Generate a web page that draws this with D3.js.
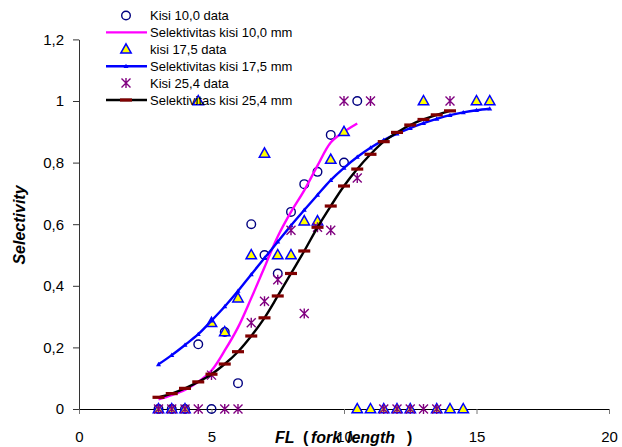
<!DOCTYPE html>
<html><head><meta charset="utf-8">
<script src="https://cdn.jsdelivr.net/npm/d3@7"></script>
<style>body{margin:0;background:#fff}svg{display:block;font-family:"Liberation Sans",Arial,sans-serif}</style>
</head><body><svg id="c" width="622" height="447"></svg>
<script>
// Observed data (FL in cm, selectivity)
const kisi10 = [[3,0],[3.5,0],[4,0],[4.5,0.21],[5,0],[5.5,0.25],[6,0.084],[6.5,0.6],[7,0.5],[7.5,0.44],[8,0.64],[8.5,0.73],[9,0.77],[9.5,0.89],[10,0.8],[10.5,1.0]];
const kisi17 = [[3,0],[3.5,0],[4,0],[4.5,1.0],[5,0.28],[5.5,0.25],[6,0.36],[6.5,0.5],[7,0.83],[7.5,0.5],[8,0.5],[8.5,0.61],[9,0.61],[9.5,0.81],[10,0.9],[10.5,0],[11,0],[11.5,0],[12,0],[12.5,0],[13,1.0],[13.5,0],[14,0],[14.5,0],[15,1.0],[15.5,1.0]];
const kisi25 = [[3,0],[3.5,0],[4,0],[4.5,0],[5,0.11],[5.5,0],[6,0],[6.5,0.28],[7,0.35],[7.5,0.42],[8,0.58],[8.5,0.31],[9,0.59],[9.5,0.58],[10,1.0],[10.5,0.75],[11,1.0],[11.5,0],[12,0],[12.5,0],[13,0],[13.5,0],[14,1.0]];
// Fitted selectivity curves
const sel10 = [[3,0.031],[3.5,0.045],[4,0.062],[4.5,0.088],[5,0.125],[5.5,0.19],[6,0.265],[6.5,0.36],[7,0.46],[7.5,0.56],[8,0.64],[8.5,0.71],[9,0.79],[9.5,0.865],[10,0.9],[10.5,0.927]];
const sel17 = [[3,0.145],[3.5,0.175],[4,0.208],[4.5,0.243],[5,0.287],[5.5,0.333],[6,0.383],[6.5,0.437],[7,0.49],[7.5,0.543],[8,0.596],[8.5,0.646],[9,0.695],[9.5,0.743],[10,0.783],[10.5,0.818],[11,0.848],[11.5,0.873],[12,0.894],[12.5,0.912],[13,0.928],[13.5,0.942],[14,0.954],[14.5,0.963],[15,0.97],[15.5,0.975]];
const sel25 = [[3,0.038],[3.5,0.05],[4,0.067],[4.5,0.088],[5,0.113],[5.5,0.146],[6,0.186],[6.5,0.237],[7,0.296],[7.5,0.367],[8,0.44],[8.5,0.513],[9,0.59],[9.5,0.659],[10,0.724],[10.5,0.779],[11,0.827],[11.5,0.868],[12,0.898],[12.5,0.922],[13,0.94],[13.5,0.955],[14,0.968]];
const xTicks = [0,5,10,15,20];
const yTicks = [0,0.2,0.4,0.6,0.8,1.0,1.2];
const legendLabels = ["Kisi 10,0 data","Selektivitas kisi 10,0 mm","kisi 17,5 data","Selektivitas kisi 17,5 mm","Kisi 25,4 data","Selektivitas kisi 25,4 mm"];

const svg = d3.select("#c");
const x = d3.scaleLinear().domain([0,20]).range([79,609]);
const y = d3.scaleLinear().domain([0,1.2]).range([409,39.4]);
const fmt = v => v===0?"0":(v===1?"1":d3.format(".1f")(v).replace(".",","));

// axes
const gx = svg.append("g").attr("transform","translate(0,409)")
  .call(d3.axisBottom(x).tickValues(xTicks).tickSize(5).tickPadding(17).tickSizeOuter(0).tickFormat(d=>d));
gx.select(".domain").attr("stroke","#000").attr("stroke-width",1.2);
gx.selectAll(".tick line").attr("stroke","#777");
gx.selectAll("text").attr("font-size",15).attr("fill","#000").attr("font-family","Liberation Sans, Arial");
const gy = svg.append("g").attr("transform","translate(79,0)")
  .call(d3.axisLeft(y).tickValues(yTicks).tickSize(6).tickPadding(9).tickSizeOuter(0).tickFormat(fmt));
gy.select(".domain").attr("stroke","#333");
gy.selectAll(".tick line").attr("stroke","#333");
gy.selectAll("text").attr("font-size",15).attr("fill","#000").attr("font-family","Liberation Sans, Arial");

// titles
const xt = svg.append("text").attr("y",443).attr("font-size",16).attr("font-weight","bold");
xt.append("tspan").attr("x",275).attr("font-style","italic").text("FL");
xt.append("tspan").attr("x",303).text("(");
xt.append("tspan").attr("x",311).attr("font-style","italic").text("fork");
xt.append("tspan").attr("x",347).attr("font-style","italic").text("length");
xt.append("tspan").attr("x",407).text(")");
svg.append("text").attr("transform","translate(25,225) rotate(-90)").attr("text-anchor","middle")
  .attr("font-size",16).attr("font-weight","bold").attr("font-style","italic").text("Selectivity");

const line = d3.line().x(d=>x(d[0])).y(d=>y(d[1])).curve(d3.curveCatmullRom);

// marker drawers
function circ(g,cx,cy){g.append("circle").attr("cx",cx).attr("cy",cy).attr("r",4.3).attr("fill","none").attr("stroke","#000080").attr("stroke-width",1.4);}
function tri(g,cx,cy){g.append("path").attr("d",`M${cx},${cy-5.5}L${cx+5.2},${cy+3.8}L${cx-5.2},${cy+3.8}Z`).attr("fill","#ffff00").attr("stroke","#0000ff").attr("stroke-width",1.5);}
function star(g,cx,cy){const s=4.5;g.append("path").attr("d",`M${cx-s},${cy-s}L${cx+s},${cy+s}M${cx-s},${cy+s}L${cx+s},${cy-s}M${cx},${cy-s-0.5}L${cx},${cy+s+0.5}`).attr("stroke","#800080").attr("stroke-width",1.4).attr("fill","none");}
function smallTri(g,cx,cy){g.append("path").attr("d",`M${cx},${cy-2.5}L${cx+2.5},${cy+1.8}L${cx-2.5},${cy+1.8}Z`).attr("fill","#0000ff");}
function dash(g,cx,cy){g.append("rect").attr("x",cx-6).attr("y",cy-1.6).attr("width",12).attr("height",3.2).attr("fill","#800000");}

const plot = svg.append("g");
// series order: kisi10 data, sel10, kisi17 data, sel17, kisi25 data, sel25
const g1 = plot.append("g"); kisi10.forEach(d=>circ(g1,x(d[0]),y(d[1])));
plot.append("path").datum(sel10).attr("d",line).attr("fill","none").attr("stroke","#ff00ff").attr("stroke-width",2.4);
const g2 = plot.append("g"); kisi17.forEach(d=>tri(g2,x(d[0]),y(d[1])));
plot.append("path").datum(sel17).attr("d",line).attr("fill","none").attr("stroke","#0000ff").attr("stroke-width",2.4);
const g2b = plot.append("g"); sel17.forEach(d=>smallTri(g2b,x(d[0]),y(d[1])));
const g3 = plot.append("g"); kisi25.forEach(d=>star(g3,x(d[0]),y(d[1])));
plot.append("path").datum(sel25).attr("d",line).attr("fill","none").attr("stroke","#000").attr("stroke-width",2.4);
const g3b = plot.append("g"); sel25.forEach(d=>dash(g3b,x(d[0]),y(d[1])));

// legend
const lg = svg.append("g");
const ly0 = 15.5, lstep = 16.9;
legendLabels.forEach((t,i)=>{
  const yy = ly0 + i*lstep;
  const gg = lg.append("g");
  if(i===0) circ(gg,126,yy);
  if(i===2) tri(gg,126,yy);
  if(i===4) star(gg,126,yy);
  if(i===1||i===3||i===5){
    const col = i===1?"#ff00ff":(i===3?"#0000ff":"#000");
    gg.append("line").attr("x1",106).attr("x2",147).attr("y1",yy).attr("y2",yy).attr("stroke",col).attr("stroke-width",2.4);
    if(i===3) smallTri(gg,126,yy);
    if(i===5) dash(gg,126,yy);
  }
  gg.append("text").attr("x",150).attr("y",yy+4.6).attr("font-size",13).attr("fill","#000").text(t);
});
</script></body></html>
